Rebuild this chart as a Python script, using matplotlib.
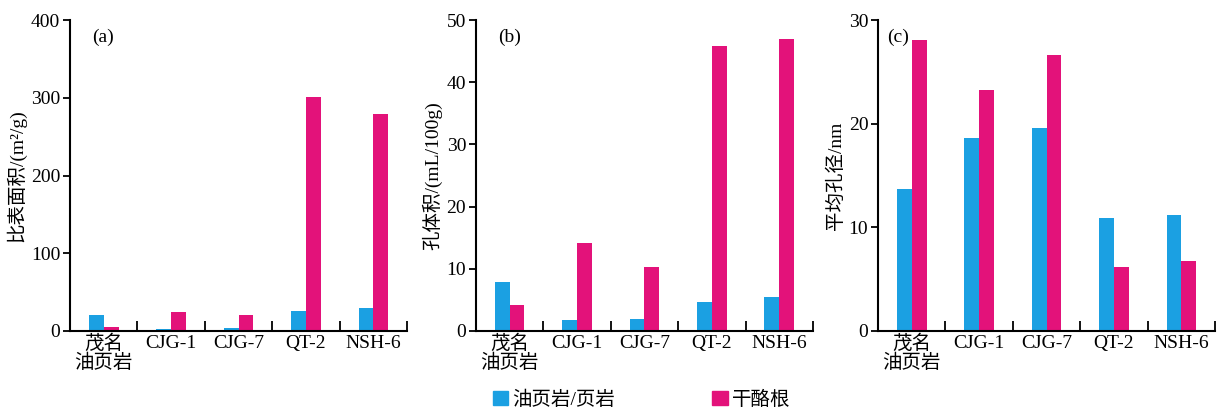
import matplotlib.pyplot as plt
import numpy as np

plt.rcParams['font.family'] = ['Liberation Serif', 'Noto Sans CJK SC']

categories = ['茂名\n油页岩', 'CJG-1', 'CJG-7', 'QT-2', 'NSH-6']
series_names = ['油页岩/页岩', '干酪根']

# (a) specific surface area, m2/g
area_shale = [20, 2, 4, 25, 30]
area_kerogen = [5, 24, 21, 301, 279]
# (b) pore volume, mL/100g
vol_shale = [7.9, 1.7, 1.9, 4.6, 5.4]
vol_kerogen = [4.1, 14.2, 10.2, 45.8, 47.0]
# (c) mean pore diameter, nm
diam_shale = [13.7, 18.6, 19.6, 10.9, 11.2]
diam_kerogen = [28.1, 23.3, 26.6, 6.2, 6.7]

blue = '#1ba0e2'
pink = '#e3127a'

panels = [
    (area_shale, area_kerogen, 400, 100, '比表面积/(m²/g)', '(a)', 0.065),
    (vol_shale, vol_kerogen, 50, 10, '孔体积/(mL/100g)', '(b)', 0.065),
    (diam_shale, diam_kerogen, 30, 10, '平均孔径/nm', '(c)', 0.027),
]
lefts = [0.0575, 0.391, 0.7215]

fig = plt.figure(figsize=(12.17, 4.12), dpi=100)
x = np.arange(len(categories))
w = 0.22

for (s, k, ymax, step, ylabel, tag, tx), left in zip(panels, lefts):
    ax = fig.add_axes([left, 0.197, 0.277, 0.754])
    ax.bar(x - w / 2, s, w, color=blue)
    ax.bar(x + w / 2, k, w, color=pink)
    ax.set_xlim(-0.5, 4.5)
    ax.set_ylim(0, ymax)
    ax.set_yticks(np.arange(0, ymax + 1, step))
    ax.set_xticks(x)
    ax.set_xticklabels(categories, fontsize=14, linespacing=1.05)
    ax.set_xticks(np.arange(0.5, 5, 1), minor=True)
    ax.tick_params(axis='x', which='major', length=0, pad=3)
    ax.tick_params(axis='x', which='minor', direction='in', length=7, width=1.3)
    ax.tick_params(axis='y', direction='out', length=5, width=1.3, labelsize=14, pad=2)
    for sp in ['top', 'right']:
        ax.spines[sp].set_visible(False)
    for sp in ['left', 'bottom']:
        ax.spines[sp].set_linewidth(1.5)
    ax.set_ylabel(ylabel, fontsize=14, labelpad=3)
    ax.text(tx, 0.945, tag, transform=ax.transAxes, fontsize=14, va='center')

handles = [plt.Rectangle((0, 0), 1, 1, color=blue), plt.Rectangle((0, 0), 1, 1, color=pink)]
fig.legend(handles, series_names, loc='center', bbox_to_anchor=(0.527, 0.03), ncol=2,
           frameon=False, fontsize=14, handlelength=0.8, handleheight=0.8,
           handletextpad=0.2, columnspacing=5)

fig.savefig('out.png', dpi=100)
